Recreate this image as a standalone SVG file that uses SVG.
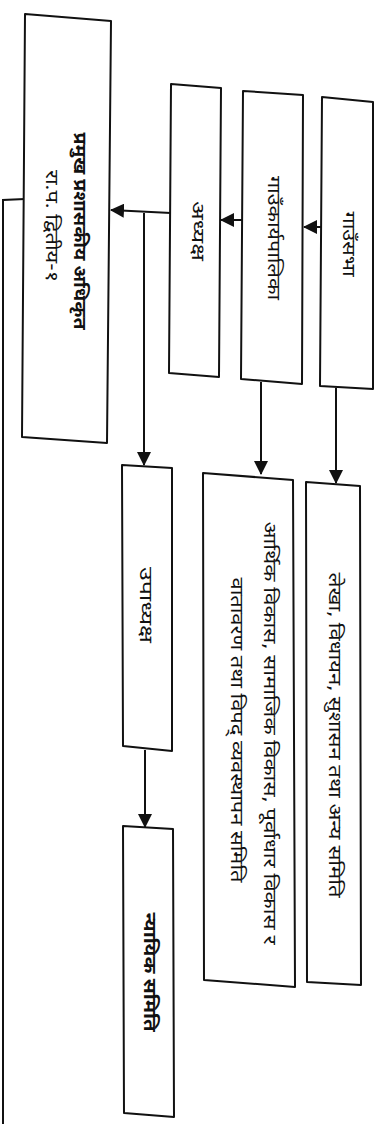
<svg xmlns="http://www.w3.org/2000/svg" width="382" height="1124" viewBox="0 0 382 1124">
<style>
.box{fill:#fff;stroke:#111;stroke-width:2;stroke-linejoin:round}
.con{fill:none;stroke:#111;stroke-width:2}
.t{font-family:"Noto Sans Devanagari","Lohit Devanagari","Noto Sans","DejaVu Sans",sans-serif;font-size:18px;fill:#111;text-anchor:middle;dominant-baseline:central}
.b{font-weight:bold}
</style>
<defs>
<marker id="ah" markerUnits="userSpaceOnUse" markerWidth="14" markerHeight="14" viewBox="0 0 14 14" refX="13" refY="7" orient="auto">
<path d="M0,0 L14,7 L0,14 Z" fill="#111"/>
</marker>
</defs>
<rect width="382" height="1124" fill="#fff"/>
<g id="connectors">
<path class="con" d="M25,199 L3,200 L3,1124"/>
<path class="con" d="M322,227 L304,227" marker-end="url(#ah)"/>
<path class="con" d="M243,220 L221,220" marker-end="url(#ah)"/>
<path class="con" d="M171,213 L111,210" marker-end="url(#ah)"/>
<path class="con" d="M144,213 L144,465" marker-end="url(#ah)"/>
<path class="con" d="M261,382 L261,474" marker-end="url(#ah)"/>
<path class="con" d="M336,388 L336,483" marker-end="url(#ah)"/>
<path class="con" d="M145,750 L145,827" marker-end="url(#ah)"/>
</g>
<g id="pramukh">
<polygon class="box" points="25,14 111,21 107,443 22,437"/>
<text class="t b" transform="translate(78,231) rotate(90)" textLength="197" lengthAdjust="spacingAndGlyphs">प्रमुख प्रशासकीय अधिकृत</text>
<text class="t" transform="translate(50,226) rotate(90)" textLength="112" lengthAdjust="spacingAndGlyphs">रा.प. द्वितीय-१</text>
</g>
<g id="adhyaksha">
<polygon class="box" points="171,84 221,88 219,377 169,373"/>
<text class="t" transform="translate(196,231) rotate(90)" textLength="60" lengthAdjust="spacingAndGlyphs">अध्यक्ष</text>
</g>
<g id="karyapalika">
<polygon class="box" points="243,91 303,95 302,384 241,379"/>
<text class="t" transform="translate(272,238) rotate(90)" textLength="124" lengthAdjust="spacingAndGlyphs">गाउँकार्यपालिका</text>
</g>
<g id="sabha">
<polygon class="box" points="322,97 373,102 373,389 320,386"/>
<text class="t" transform="translate(347,244) rotate(90)" textLength="65" lengthAdjust="spacingAndGlyphs">गाउँसभा</text>
</g>
<g id="upadhyaksha">
<polygon class="box" points="122,465 172,468 172,751 123,746"/>
<text class="t" transform="translate(144,605) rotate(90)" textLength="76" lengthAdjust="spacingAndGlyphs">उपाध्यक्ष</text>
</g>
<g id="samiti2">
<polygon class="box" points="203,473 293,480 295,987 204,980"/>
<text class="t" transform="translate(268,733) rotate(90)" textLength="423" lengthAdjust="spacingAndGlyphs">आर्थिक विकास, सामाजिक विकास, पूर्वाधार विकास र</text>
<text class="t" transform="translate(235,730) rotate(90)" textLength="305" lengthAdjust="spacingAndGlyphs">वातावरण तथा विपद् व्यवस्थापन समिति</text>
</g>
<g id="samiti1">
<polygon class="box" points="306,482 360,486 361,985 307,982"/>
<text class="t" transform="translate(333,735) rotate(90)" textLength="325" lengthAdjust="spacingAndGlyphs">लेखा, विधायन, सुशासन तथा अन्य समिति</text>
</g>
<g id="nyayik">
<polygon class="box" points="123,826 173,829 174,1117 124,1113"/>
<text class="t b" transform="translate(148,972) rotate(90)" textLength="119" lengthAdjust="spacingAndGlyphs">न्यायिक समिति</text>
</g>
</svg>
